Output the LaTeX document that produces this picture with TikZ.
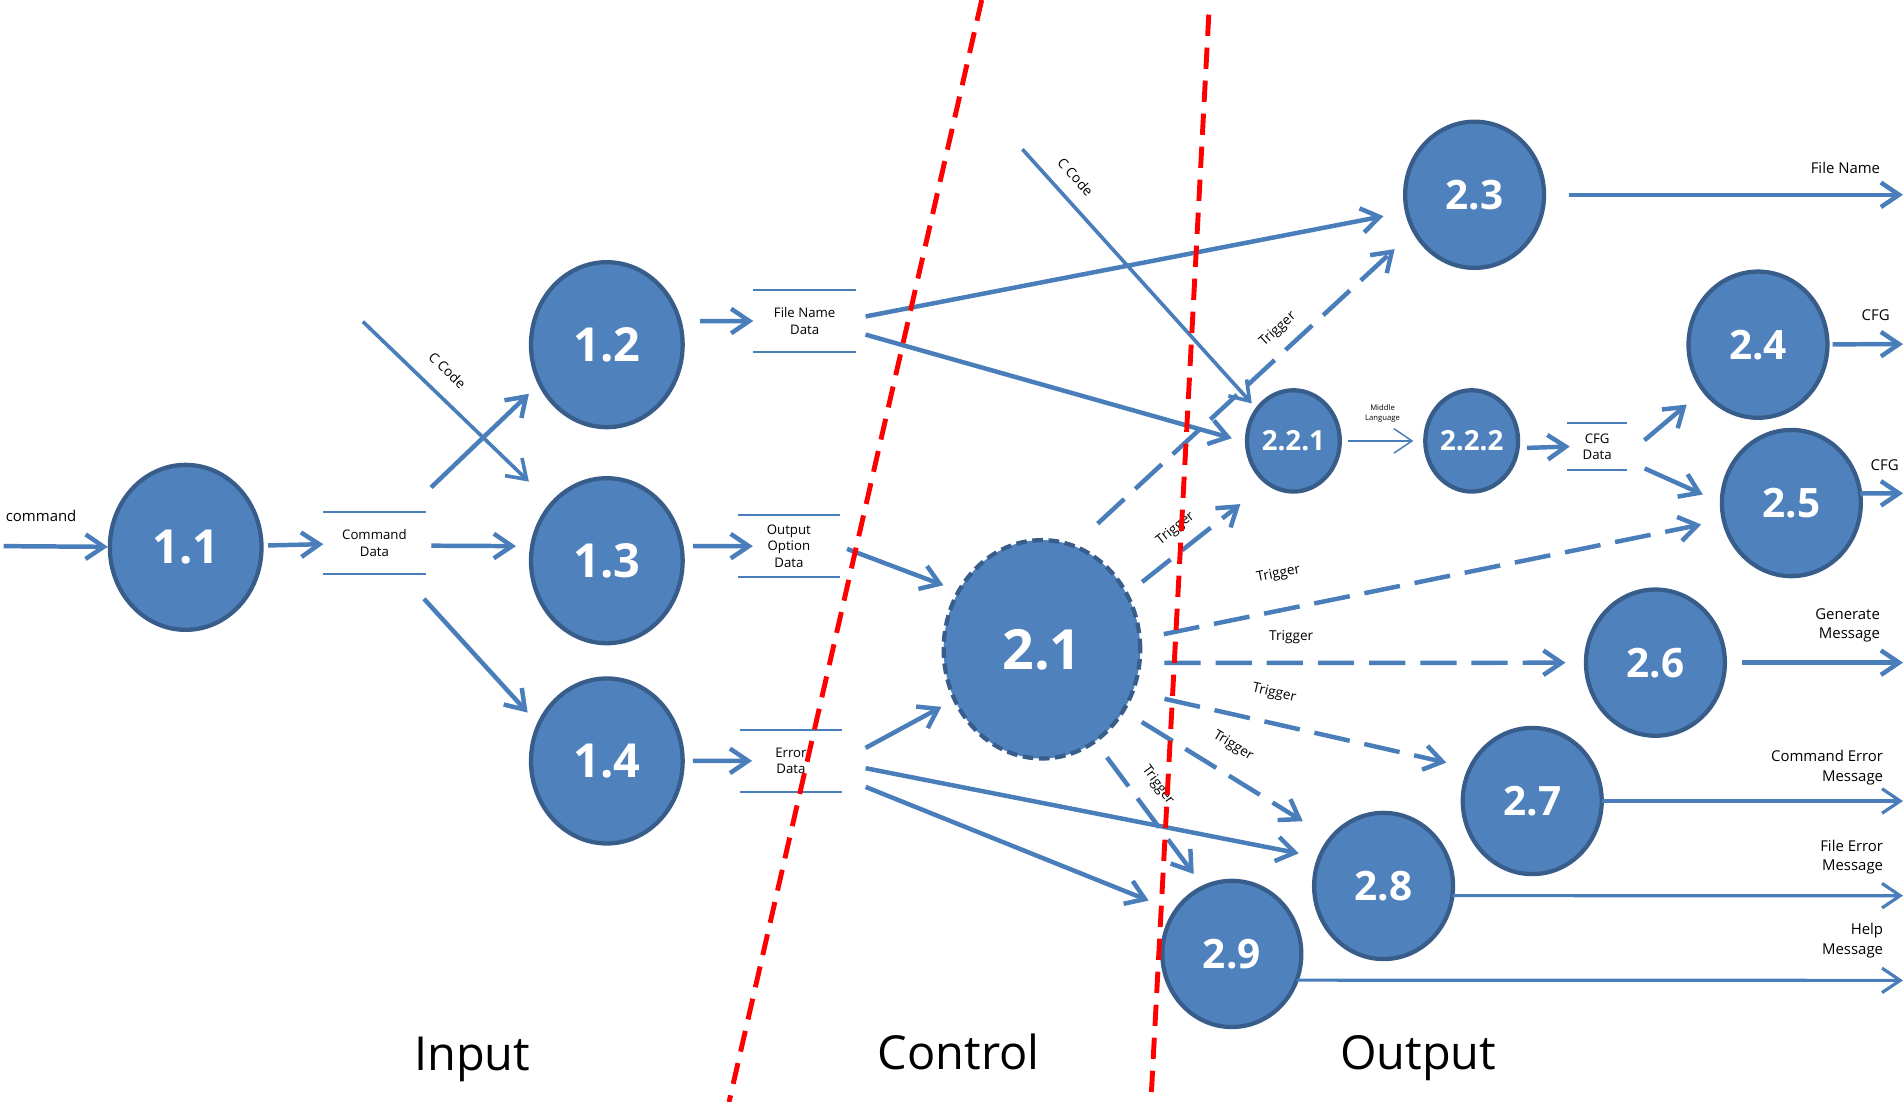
\documentclass[tikz,border=0pt]{standalone}
\usepackage{fontspec}
\setmainfont{Open Sans}
\usetikzlibrary{shapes.geometric, arrows.meta}

\definecolor{procfill}{HTML}{4F81BD}
\definecolor{procedge}{HTML}{385D8A}
\definecolor{flowblue}{HTML}{4A7EBB}

\begin{document}
\begin{tikzpicture}[
        x=0.02cm, y=-0.02cm,
        proc/.style={ellipse, draw=procedge, line width=2pt, fill=procfill, text=white, inner sep=0pt, outer sep=0pt},
        inproc/.style={proc, minimum width=2.5cm, minimum height=2.72cm, font=\fontsize{22}{26}\selectfont\bfseries},
        ctrlproc/.style={proc, dash pattern=on 5pt off 2.6pt, minimum width=3.24cm, minimum height=3.6cm, font=\fontsize{26}{30}\selectfont\bfseries},
        subproc/.style={proc, minimum width=1.53cm, minimum height=1.67cm, font=\fontsize{13}{15}\selectfont\bfseries},
        outproc/.style={proc, minimum width=2.29cm, minimum height=2.41cm, font=\fontsize{19}{22}\selectfont\bfseries},
        store/.style={rectangle, inner sep=0pt, align=center, font=\fontsize{6.2}{7.6}\selectfont},
        storeline/.style={draw=flowblue, line width=1pt},
        flow/.style={draw=flowblue, line width=2.1pt, -{Straight Barb[length=8.5pt,width=11.5pt]}},
        thinflow/.style={flow, line width=1.5pt},
        trig/.style={flow, dash pattern=on 17pt off 7pt},
        lbl/.style={font=\fontsize{7}{9}\selectfont, inner sep=1pt, anchor=south east, align=right},
        trglbl/.style={font=\fontsize{6.4}{7.7}\selectfont, inner sep=1pt, sloped},
        divider/.style={draw=red, line width=2.3pt, dash pattern=on 10pt off 5.5pt},
        region/.style={font=\fontsize{22}{26}\selectfont, anchor=base}
    ]
        \useasboundingbox (0,0) rectangle (1568,908);

        % Input processes
        \node[inproc] (p11) at (153,451) {1.1};
        \node[inproc] (p12) at (500,284) {1.2};
        \node[inproc] (p13) at (500,462) {1.3};
        \node[inproc] (p14) at (500,627) {1.4};

        % Data stores
        \node[store, minimum width=1.67cm, minimum height=1cm] (cmddata) at (308.5,447.4) {Command\\Data};
        \node[store, minimum width=1.68cm, minimum height=1cm] (fnamedata) at (663,264.5) {File Name\\Data};
        \node[store, minimum width=1.66cm, minimum height=1cm] (optdata) at (650,450) {Output\\Option\\Data};
        \node[store, minimum width=1.66cm, minimum height=1cm] (errdata) at (651.7,626.9) {Error\\Data};
        \node[store, minimum width=0.98cm, minimum height=0.77cm] (cfgdata) at (1316,368) {CFG\\Data};
        \foreach \s in {cmddata,fnamedata,optdata,errdata,cfgdata}
            \draw[storeline] (\s.north west) -- (\s.north east) (\s.south west) -- (\s.south east);

        % Control and output processes
        \node[ctrlproc] (p21) at (858.5,535) {2.1};
        \node[subproc] (p221) at (1065.7,363.3) {2.2.1};
        \node[subproc] (p222) at (1212.6,363.3) {2.2.2};
        \node[outproc] (p23) at (1215,160.5) {2.3};
        \node[outproc] (p24) at (1448.5,284) {2.4};
        \node[outproc] (p25) at (1476,414.5) {2.5};
        \node[outproc] (p26) at (1364,546) {2.6};
        \node[outproc] (p27) at (1262.5,660) {2.7};
        \node[outproc] (p28) at (1140,730) {2.8};
        \node[outproc] (p29) at (1015,786) {2.9};

        % Free ends
        \coordinate (cmdin) at (3,450);
        \coordinate (ccodeA) at (299,265);
        \coordinate (ccodeB) at (842.4,123);
        \coordinate (outfile) at (1568,160.5);
        \coordinate (outcfgA) at (1568,283.5);
        \coordinate (outcfgB) at (1568,406.5);
        \coordinate (outgen) at (1568,546);
        \coordinate (outcmderr) at (1568,660);
        \coordinate (outfileerr) at (1568,738);
        \coordinate (outhelp) at (1568,807.8);

        % Input flows
        \draw[flow, shorten >=1pt] (cmdin) -- (p11) node[lbl, pos=0, anchor=south west, xshift=-1pt, yshift=9.4pt] {command};
        \draw[flow, shorten <=3.1pt] (p11) -- (cmddata);
        \draw[flow, shorten <=16.8pt, shorten >=7.1pt] (cmddata.45) -- (p12.210);
        \draw[flow, shorten <=2.7pt, shorten >=7.6pt] (cmddata.-3) -- (p13.169);
        \draw[flow, shorten <=15.9pt, shorten >=7.7pt] (cmddata.-49) -- (p14.152);
        \draw[flow, line width=1.7pt, shorten >=15pt] (ccodeA) -- (p13.134) node[trglbl, pos=0.36, above=6.8pt] {C Code};
        \draw[flow, shorten <=9.7pt] (p12.18) -- (fnamedata.west);
        \draw[flow, shorten <=5.4pt, shorten >=-6.9pt] (p13.11) -- (optdata.west);
        \draw[flow, shorten <=4.8pt, shorten >=-5.6pt] (p14) -- (errdata);

        % Stores to control
        \draw[flow, shorten <=4.6pt, shorten >=11.2pt] (fnamedata.3) -- (p23.194);
        \draw[flow, shorten <=4.6pt, shorten >=7.4pt] (fnamedata.-12) -- (p221.182);
        \draw[flow, line width=1.7pt, shorten >=3.7pt] (ccodeB) -- (p221.139) node[trglbl, pos=0.16, above=5.5pt] {C Code};
        \draw[flow, shorten <=3.7pt, shorten >=7.7pt] (optdata.east) -- (p21.145);
        \draw[flow, shorten <=12.7pt, shorten >=7.1pt] (errdata.east) -- (p21.210);
        \draw[flow, shorten <=11.4pt, shorten >=10pt] (errdata.-3) -- (p28.156);
        \draw[flow, shorten <=12.1pt, shorten >=13.5pt] (errdata.-18) -- (p29.143);

        % Triggers
        \draw[trig, shorten <=15.4pt, shorten >=12.5pt] (p21.73) -- (p23.211) node[trglbl, pos=0.64, above=4.3pt] {Trigger};
        \draw[trig, shorten <=9.2pt, shorten >=16.1pt] (p21.33) -- (p221.238) node[trglbl, pos=0.44, above=4.7pt] {Trigger};
        \draw[trig, shorten <=11.5pt, shorten >=10.8pt] (p21.6) -- (p25.194) node[trglbl, pos=0.25, above=11.7pt] {Trigger};
        \draw[trig, shorten <=11.7pt, shorten >=9.6pt] (p21.-8) -- (p26) node[trglbl, pos=0.34, above=7pt] {Trigger};
        \draw[trig, shorten <=15.4pt, shorten >=11.5pt] (p21.-25) -- (p27.152) node[trglbl, pos=0.40, above=8.8pt] {Trigger};
        \draw[trig, shorten <=10.2pt, shorten >=15.4pt] (p21.-37) -- (p28.138) node[trglbl, pos=0.46, above=7.7pt] {Trigger};
        \draw[trig, shorten <=9.4pt, shorten >=7.7pt] (p21.-60) -- (p29.113) node[trglbl, pos=0.40, above=6.2pt] {Trigger};

        % Sub-processes
        \draw[flow, line width=0.7pt, shorten <=4pt, shorten >=5.6pt] (p221) -- (p222) node[midway, above=7.5pt, font=\fontsize{3.6}{4.7}\selectfont, align=center, inner sep=1pt] {Middle\\Language};
        \draw[flow, shorten <=4.4pt, shorten >=-1.3pt] (p222.-9) -- (cfgdata.west);
        \draw[flow, shorten <=10.5pt, shorten >=10.4pt] (cfgdata.-15) -- (p24.220);
        \draw[flow, shorten <=8.9pt, shorten >=9.8pt] (cfgdata.-25) -- (p25.west);

        % Outputs
        \draw[flow, shorten <=11.5pt] (p23) -- (outfile) node[lbl, pos=1, xshift=-8.7pt, yshift=7.8pt] {File Name};
        \draw[flow, shorten <=2.4pt] (p24) -- (outcfgA) node[lbl, pos=1, xshift=-4.2pt, yshift=8.7pt] {CFG};
        \draw[flow] (p25.8) -- (outcfgB) node[lbl, pos=1, yshift=8.7pt] {CFG};
        \draw[flow, shorten <=8.1pt] (p26) -- (outgen) node[lbl, pos=1, xshift=-8.8pt, yshift=7.5pt] {Generate\\Message};
        \draw[thinflow] (p27) -- (outcmderr) node[lbl, pos=1, xshift=-7.6pt, yshift=5.9pt] {Command Error\\Message};
        \draw[thinflow] (p28.-8) -- (outfileerr) node[lbl, pos=1, xshift=-7.6pt, yshift=8.3pt] {File Error\\Message};
        \draw[thinflow] (p29.-22) -- (outhelp) node[lbl, pos=1, xshift=-7.6pt, yshift=8.9pt] {Help\\Message};

        % Section borders
        \coordinate (divAtop) at (808.9,0);
        \coordinate (divAbot) at (600.7,908);
        \coordinate (divBtop) at (996,12);
        \coordinate (divBbot) at (948.3,908);
        \draw[divider] (divAtop) -- (divAbot);
        \draw[divider] (divBtop) -- (divBbot);

        % Sections
        \node[region] (inlbl) at (389,882) {Input};
        \node[region] (ctrllbl) at (790,881) {Control};
        \node[region] (outlbl) at (1168.6,881) {Output};
    \end{tikzpicture}
\end{document}
